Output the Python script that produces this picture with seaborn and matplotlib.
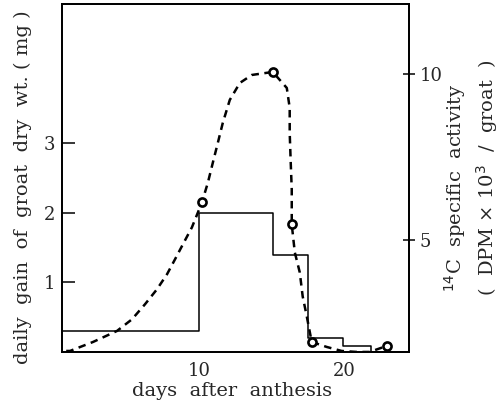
import seaborn as sns
import matplotlib.pyplot as plt

# daily gain of groat dry weight (step series, left axis)
step_days = [0.62, 10.0, 15.1, 17.5, 19.9, 21.8, 24.4]
step_gain = [0.3, 2.0, 1.4, 0.2, 0.08, 0.0, 0.0]

# 14C specific activity curve (dashed, right axis)
curve_days = [0.9, 1.16, 2.74, 4.38, 5.41, 6.30, 7.12, 7.81, 8.36, 8.90, 9.52,
              10.21, 10.62, 10.96, 11.30, 11.64, 12.12, 12.81, 13.63, 15.07,
              16.03, 16.23, 16.23, 16.30, 16.37, 16.37, 16.58, 16.92, 17.12,
              17.40, 17.74, 18.77, 19.79, 20.82, 21.71, 22.88]
curve_act = [1.68, 1.68, 1.95, 2.28, 2.63, 3.08, 3.53, 3.98, 4.43, 4.88, 5.39,
             6.14, 6.74, 7.34, 7.93, 8.53, 9.22, 9.73, 9.97, 10.06,
             9.58, 8.98, 8.23, 7.34, 6.53, 5.48, 4.64, 4.04, 3.32,
             2.72, 1.95, 1.80, 1.68, 1.65, 1.65, 1.83]

# measured points (open circles)
point_days = [10.21, 15.07, 16.37, 17.74, 22.88]
point_act = [6.14, 10.06, 5.48, 1.95, 1.83]

left_ticks = [1, 2, 3]
right_ticks = [5, 10]
x_ticks = [10, 20]

sns.set_style("white")
plt.rcParams['font.family'] = ['DejaVu Serif']

fig = plt.figure(figsize=(5.01, 4.05), dpi=100)
ax = fig.add_axes([0.124, 0.131, 0.692, 0.859])
ax2 = ax.twinx()

sns.lineplot(x=step_days, y=step_gain, ax=ax, color='black', linewidth=1.1,
             drawstyle='steps-post', estimator=None, sort=False)
sns.lineplot(x=curve_days, y=curve_act, ax=ax2, color='black', linewidth=1.8,
             linestyle=(0, (3, 2.2)), estimator=None, sort=False)
sns.scatterplot(x=point_days, y=point_act, ax=ax2, marker='o', s=34,
                facecolor='white', edgecolor='black', linewidth=1.9, zorder=5)

ax.set_xlim(0.62, 24.4)
ax.set_ylim(0, 5.0)
ax2.set_ylim(1.65, 12.1)

ax.set_xticks(x_ticks)
ax.set_yticks(left_ticks)
ax2.set_yticks(right_ticks)

ax.tick_params(axis='y', direction='in', length=9.5, width=1.1, pad=5,
               labelsize=13, color='black')
ax.tick_params(axis='x', length=0, pad=7, labelsize=13)
ax2.tick_params(axis='y', direction='inout', length=8, width=1.1, pad=4,
                labelsize=13, color='black')

for a in (ax, ax2):
    for s in a.spines.values():
        s.set_linewidth(1.3)
        s.set_color('black')

ax.set_xlabel('')
ax.set_ylabel('')
ax2.set_ylabel('')

fig.text(23 / 501, 1 - 187 / 405, 'daily  gain  of  groat  dry  wt. ( mg )',
         rotation=90, ha='center', va='center', fontsize=14)
fig.text(232 / 501, 1 - 391 / 405, 'days  after  anthesis',
         ha='center', va='center', fontsize=14)
fig.text(455 / 501, 1 - 188 / 405, '$^{14}$C  specific  activity',
         rotation=90, ha='center', va='center', fontsize=14)
fig.text(487 / 501, 1 - 178 / 405, '(  DPM × 10$^3$  ∕  groat  )',
         rotation=90, ha='center', va='center', fontsize=14)

fig.savefig('out.png', dpi=100)
